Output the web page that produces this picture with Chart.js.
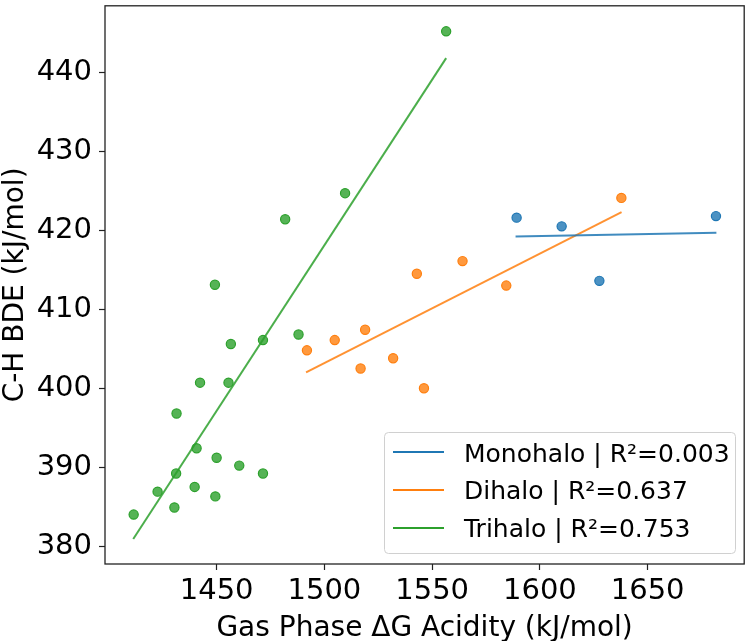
<!DOCTYPE html>
<html>
<head>
<meta charset="utf-8">
<script src="https://cdn.jsdelivr.net/npm/chart.js@4.4.1/dist/chart.umd.min.js"></script>
<style>
  html, body { margin: 0; padding: 0; background: #fff; }
  #wrap { width: 750px; height: 641px; }
</style>
</head>
<body>
<div id="wrap"><canvas id="c" width="750" height="641"></canvas></div>
<script>
// ---- data ----
const seriesNames = ["Monohalo | R²=0.003", "Dihalo | R²=0.637", "Trihalo | R²=0.753"];

const monoX = [1589.2, 1610.1, 1627.6, 1681.7];
const monoY = [421.6, 420.5, 413.6, 421.8];
const monoFitX = [1588.7, 1681.9];
const monoFitY = [419.2, 419.7];

const diX = [1491.9, 1504.8, 1518.9, 1516.8, 1531.9, 1542.9, 1546.2, 1564.1, 1584.4, 1637.8];
const diY = [404.8, 406.1, 407.4, 402.5, 403.8, 414.5, 400.0, 416.1, 413.0, 424.1];
const diFitX = [1491.5, 1637.9];
const diFitY = [402.0, 422.3];

const triX = [1556.5, 1509.6, 1481.8, 1449.2, 1456.6, 1471.5, 1488.0, 1442.3, 1455.5, 1431.4,
              1440.7, 1450.0, 1460.5, 1471.5, 1431.2, 1422.6, 1439.8, 1449.4, 1430.4, 1411.5];
const triY = [445.2, 424.7, 421.4, 413.1, 405.6, 406.1, 406.8, 400.7, 400.7, 396.8,
              392.4, 391.2, 390.2, 389.2, 389.2, 386.9, 387.5, 386.3, 384.9, 384.0];
const triFitX = [1411.3, 1556.5];
const triFitY = [380.9, 441.8];

const xTicks = [1450, 1500, 1550, 1600, 1650];
const yTicks = [380, 390, 400, 410, 420, 430, 440];
const xTitle = "Gas Phase ΔG Acidity (kJ/mol)";
const yTitle = "C-H BDE (kJ/mol)";

// ---- styling ----
const FONT = "'DejaVu Sans', sans-serif";
const colors = [
  { fill: 'rgba(31,119,180,0.8)', edge: 'rgb(31,119,180)', line: 'rgba(31,119,180,0.85)' },
  { fill: 'rgba(255,127,14,0.8)', edge: 'rgb(255,127,14)', line: 'rgba(255,127,14,0.85)' },
  { fill: 'rgba(44,160,44,0.8)', edge: 'rgb(44,160,44)', line: 'rgba(44,160,44,0.85)' }
];
const zip = (xs, ys) => xs.map((x, i) => ({ x: x, y: ys[i] }));

function pts(xs, ys, c, label) {
  return {
    type: 'scatter', label: label, data: zip(xs, ys),
    backgroundColor: c.fill, borderColor: c.edge, borderWidth: 1.2,
    pointRadius: 4.6, pointHoverRadius: 4.6, order: 1
  };
}
function fit(xs, ys, c, label) {
  return {
    type: 'scatter', label: label, data: zip(xs, ys), showLine: true,
    borderColor: c.line, backgroundColor: c.line, borderWidth: 2,
    pointRadius: 0, pointHoverRadius: 0, order: 0
  };
}

const frame = {
  id: 'frame',
  afterDraw(chart) {
    const { ctx, chartArea: a } = chart;
    ctx.save();
    ctx.strokeStyle = '#222';
    ctx.lineWidth = 1.3;
    ctx.strokeRect(a.left, a.top, a.right - a.left, a.bottom - a.top);
    // legend
    const bx = 384.5, by = 432.5, bw = 351, bh = 121;
    ctx.beginPath();
    ctx.roundRect(bx, by, bw, bh, 4);
    ctx.fillStyle = 'rgba(255,255,255,0.8)';
    ctx.fill();
    ctx.strokeStyle = '#d0d0d0';
    ctx.lineWidth = 1;
    ctx.stroke();
    const lineYs = [452, 490, 528];
    const baseYs = [461.5, 499.3, 537];
    ctx.font = '25px ' + FONT;
    ctx.textBaseline = 'alphabetic';
    ctx.textAlign = 'left';
    for (let i = 0; i < 3; i++) {
      ctx.beginPath();
      ctx.moveTo(393, lineYs[i]);
      ctx.lineTo(444, lineYs[i]);
      ctx.strokeStyle = colors[i].edge;
      ctx.lineWidth = 2;
      ctx.stroke();
      ctx.fillStyle = '#000';
      ctx.fillText(seriesNames[i], 464, baseYs[i]);
    }
    ctx.restore();
  }
};

new Chart(document.getElementById('c'), {
  data: {
    datasets: [
      pts(monoX, monoY, colors[0], seriesNames[0]),
      pts(diX, diY, colors[1], seriesNames[1]),
      pts(triX, triY, colors[2], seriesNames[2]),
      fit(monoFitX, monoFitY, colors[0], seriesNames[0] + ' fit'),
      fit(diFitX, diFitY, colors[1], seriesNames[1] + ' fit'),
      fit(triFitX, triFitY, colors[2], seriesNames[2] + ' fit')
    ]
  },
  options: {
    responsive: false,
    devicePixelRatio: 1,
    animation: false,
    events: [],
    layout: { padding: { left: 0, top: 2, right: 2, bottom: 0 } },
    plugins: { legend: { display: false }, tooltip: { enabled: false } },
    scales: {
      x: {
        type: 'linear', min: 1398.2, max: 1694.8,
        afterBuildTicks: s => { s.ticks = xTicks.map(v => ({ value: v })); },
        afterFit: s => { s.height = 77; s.paddingLeft = 0; s.paddingRight = 0; s.paddingTop = 0; s.paddingBottom = 0; },
        ticks: { color: '#000', font: { family: FONT, size: 29 }, padding: 4,
                 maxRotation: 0, autoSkip: false, callback: v => String(v) },
        grid: { drawOnChartArea: false, drawTicks: true, tickLength: 6, tickColor: '#222', tickWidth: 1.2 },
        border: { display: false },
        title: { display: true, text: xTitle, color: '#000',
                 font: { family: FONT, size: 28, lineHeight: 0.9 }, padding: { top: 0, bottom: 0 } }
      },
      y: {
        type: 'linear', min: 377.74, max: 448.43,
        afterBuildTicks: s => { s.ticks = yTicks.map(v => ({ value: v })); },
        afterFit: s => { s.width = 105; s.paddingLeft = 0; s.paddingRight = 0; s.paddingTop = 0; s.paddingBottom = 0; },
        ticks: { color: '#000', font: { family: FONT, size: 29 }, padding: 7,
                 autoSkip: false, callback: v => String(v) },
        grid: { drawOnChartArea: false, drawTicks: true, tickLength: 6, tickColor: '#222', tickWidth: 1.2 },
        border: { display: false },
        title: { display: true, text: yTitle, color: '#000',
                 font: { family: FONT, size: 28, lineHeight: 1 }, padding: { top: 2, bottom: 0 } }
      }
    }
  },
  plugins: [frame]
});
</script>
</body>
</html>
